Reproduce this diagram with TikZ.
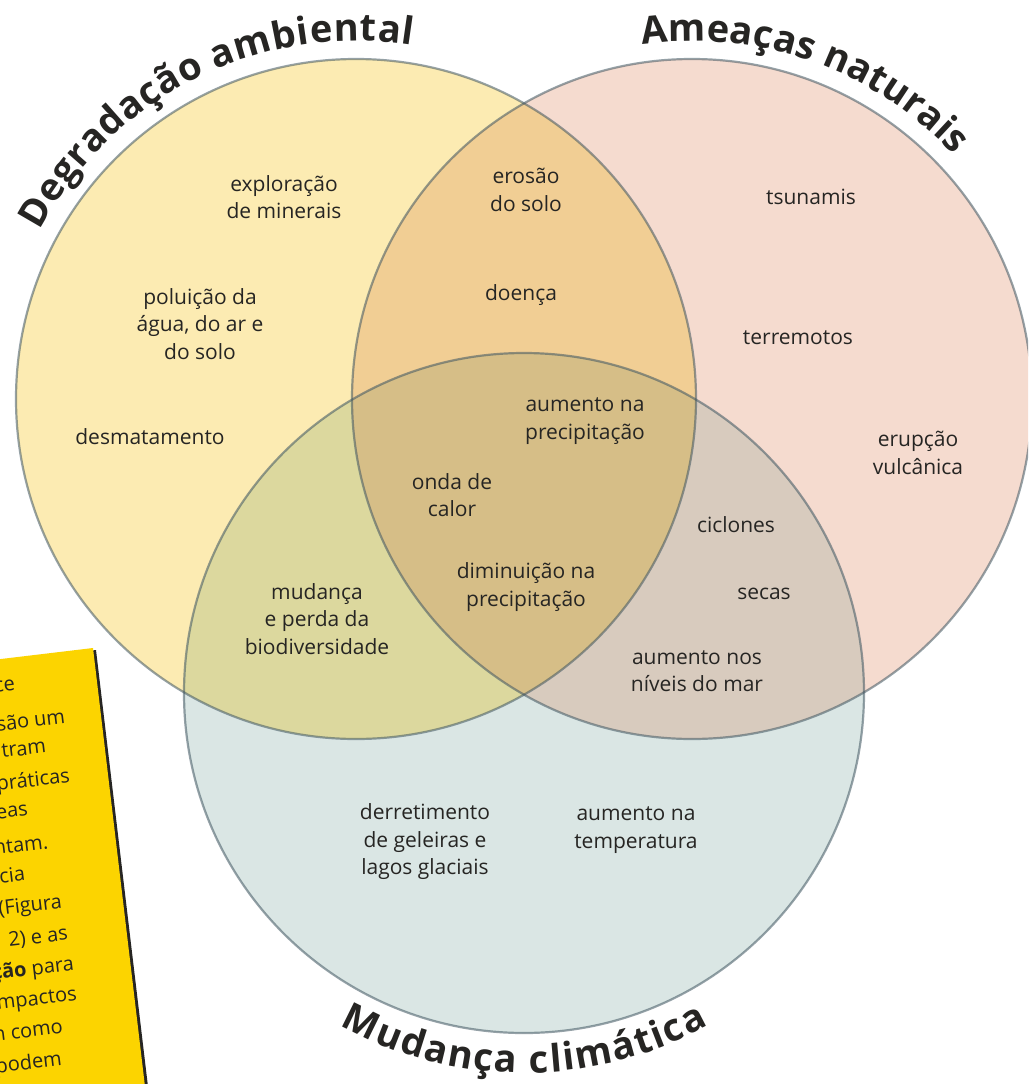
\documentclass[tikz,border=0pt]{standalone}
\usepackage{fontspec}
\setmainfont{Open Sans}
\usetikzlibrary{decorations.text}
\definecolor{cY}{HTML}{FCEBB2}
\definecolor{cP}{HTML}{F5DBCF}
\definecolor{cB}{HTML}{DAE6E4}
\definecolor{cYP}{HTML}{F1CE94}
\definecolor{cYB}{HTML}{DCD89E}
\definecolor{cPB}{HTML}{D8CBBE}
\definecolor{cYPB}{HTML}{D6BE87}
\definecolor{ink}{HTML}{262523}
\definecolor{rim}{HTML}{3F5560}
\definecolor{notey}{HTML}{FCD400}
\newcommand\ttlfont{\bfseries\fontsize{38}{44}\selectfont\color{ink}}
\begin{document}
\begin{tikzpicture}[x=1pt,y=1pt,
  lbl/.style={align=center, font=\fontsize{21}{27.5}\selectfont, text=ink, inner sep=0pt},
  notetxt/.style={anchor=east, rotate=6.8, font=\fontsize{20}{26}\selectfont, text=ink, inner sep=0pt},
  rimline/.style={draw=rim, draw opacity=0.55, line width=2.2pt},
  ttl/.style={decorate, decoration={text along path, text align={fit to path}}}]
\useasboundingbox (0,0) rectangle (1028,-1084);
\clip (0,0) rectangle (1028,-1084);
\fill[white] (0,0) rectangle (1028,-1084);

% sticky note
\fill[ink] (-20,-664) -- (96,-650) -- (149,-1095) -- (-20,-1095) -- cycle;
\fill[notey] (-20,-661.5) -- (93,-648) -- (146,-1095) -- (-20,-1095) -- cycle;
\node[notetxt] (n1) at (15,-685) {ce};
\node[notetxt] (n2) at (65,-716) {são um};
\node[notetxt] (n3) at (46,-746) {tram};
\node[notetxt] (n4) at (70,-777) {práticas};
\node[notetxt] (n5) at (28,-810) {eas};
\node[notetxt] (n6) at (48,-842) {ntam.};
\node[notetxt] (n7) at (25,-873) {cia};
\node[notetxt] (n8) at (62,-903) {(Figura};
\node[notetxt] (n9) at (68,-934) {2) e as};
\node[notetxt] (n10) at (74,-965) {\textbf{ção} para};
\node[notetxt] (n11) at (77,-996) {mpactos};
\node[notetxt] (n12) at (63,-1028) {n como};
\node[notetxt] (n13) at (62,-1060) {podem};

% circles
\coordinate (Y) at (356,-399);
\coordinate (P) at (692,-399);
\coordinate (B) at (524,-693);
\fill[cY] (Y) circle (340);
\fill[cP] (P) circle (340);
\fill[cB] (B) circle (340);
\begin{scope}\clip (Y) circle (340); \fill[cYP] (P) circle (340);\end{scope}
\begin{scope}\clip (Y) circle (340); \fill[cYB] (B) circle (340);\end{scope}
\begin{scope}\clip (P) circle (340); \fill[cPB] (B) circle (340);\end{scope}
\begin{scope}\clip (Y) circle (340); \clip (P) circle (340); \fill[cYPB] (B) circle (340);\end{scope}
\path[rimline] (Y) circle (340);
\path[rimline] (P) circle (340);
\path[rimline] (B) circle (340);

% titles
\path[ttl, decoration={text={|\ttlfont|Degradação ambiental}}]
  ([shift={(152:358)}]Y) arc[start angle=152, end angle=81, radius=358];
\path[ttl, decoration={text={|\ttlfont|Ameaças naturais}}]
  ([shift={(98:358)}]P) arc[start angle=98, end angle=43, radius=358];
\path[ttl, decoration={text={|\ttlfont|Mudança climática}}]
  ([shift={(241:380)}]B) arc[start angle=241, end angle=299, radius=380];

% labels
\node[lbl] (exp) at (284,-197) {exploração\\de minerais};
\node[lbl] (pol) at (200,-324) {poluição da\\água, do ar e\\do solo};
\node[lbl] (des) at (150,-437) {desmatamento};
\node[lbl] (ero) at (526,-190) {erosão\\do solo};
\node[lbl] (doe) at (521,-295) {doença};
\node[lbl] (tsu) at (811,-197) {tsunamis};
\node[lbl] (ter) at (798,-338) {terremotos};
\node[lbl] (eru) at (918,-453) {erupção\\vulcânica};
\node[lbl] (aup) at (585,-421) {aumento na\\precipitação};
\node[lbl] (ond) at (452,-495) {onda de\\calor};
\node[lbl] (cic) at (736,-525) {ciclones};
\node[lbl] (dim) at (526,-587) {diminuição na\\precipitação};
\node[lbl] (sec) at (764,-594) {secas};
\node[lbl] (mud) at (317,-619) {mudança\\e perda da\\biodiversidade};
\node[lbl] (anm) at (697,-671) {aumento nos\\níveis do mar};
\node[lbl] (der) at (425,-842) {derretimento\\de geleiras e\\lagos glaciais};
\node[lbl] (aut) at (636,-830) {aumento na\\temperatura};
\end{tikzpicture}
\end{document}
